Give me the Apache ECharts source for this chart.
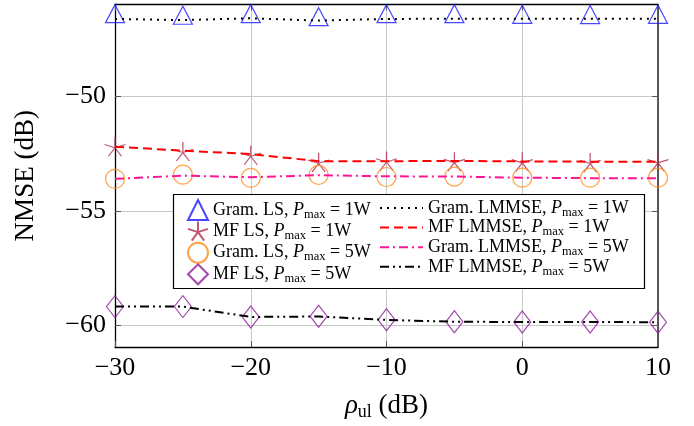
<!DOCTYPE html>
<html><head><meta charset="utf-8">
<script src="https://cdn.jsdelivr.net/npm/echarts@6/dist/echarts.min.js"></script>
<style>html,body{margin:0;padding:0;background:#fff}#c{width:694px;height:426px}</style>
</head><body><div id="c"></div>
<script>
const xValues = [-30, -25, -20, -15, -10, -5, 0, 5, 10];
const xTicks = [-30, -20, -10, 0, 10];
const yTicks = [-60, -55, -50];
const gramLS1 = [-46.53, -46.60, -46.53, -46.66, -46.53, -46.53, -46.56, -46.57, -46.56];
const gramLMMSE1 = [-46.63, -46.68, -46.60, -46.70, -46.63, -46.62, -46.62, -46.62, -46.62];
const mfLS1 = [-52.20, -52.41, -52.57, -52.88, -52.82, -52.85, -52.86, -52.89, -52.86];
const mfLMMSE1 = [-52.20, -52.37, -52.52, -52.83, -52.83, -52.82, -52.84, -52.85, -52.85];
const gramLS5 = [-53.60, -53.42, -53.56, -53.43, -53.52, -53.50, -53.55, -53.55, -53.55];
const gramLMMSE5 = [-53.60, -53.46, -53.53, -53.44, -53.49, -53.50, -53.55, -53.57, -53.57];
const mfLS5 = [-59.17, -59.17, -59.62, -59.59, -59.74, -59.83, -59.84, -59.84, -59.85];
const mfLMMSE5 = [-59.17, -59.17, -59.62, -59.60, -59.75, -59.83, -59.84, -59.84, -59.85];
const lsNames = ['Gram. LS, P_max = 1W', 'MF LS, P_max = 1W', 'Gram. LS, P_max = 5W', 'MF LS, P_max = 5W'];
const lmNames = ['Gram. LMMSE, P_max = 1W', 'MF LMMSE, P_max = 1W', 'Gram. LMMSE, P_max = 5W', 'MF LMMSE, P_max = 5W'];

const FONT = '"Liberation Serif", "DejaVu Serif", serif';
const pair = arr => xValues.map((x, i) => [x, arr[i]]);
const STAR = 'path://M0 0L0 -10M0 0L9.51 -3.09M0 0L-9.51 -3.09M0 0L-5.88 8.09M0 0L5.88 8.09';

function legendFmt(name) {
  const parts = name.split('P_max');
  return '{t|' + parts[0] + '}{i|P}{s|max}{t|' + parts[1] + '}';
}
const legendRich = {
  t: {fontFamily: FONT, fontSize: 18, color: '#000'},
  i: {fontFamily: FONT, fontSize: 18, fontStyle: 'italic', color: '#000'},
  s: {fontFamily: FONT, fontSize: 12.5, color: '#000', padding: [9, 0, 0, 0]}
};

function scatter(name, data, symbol, size, color, offset) {
  return {
    type: 'scatter', name, data: pair(data), symbol, symbolSize: size,
    symbolOffset: offset || [0, 0],
    itemStyle: {color: 'rgba(0,0,0,0)', borderColor: color, borderWidth: 1.2},
    z: 3
  };
}
function line(name, data, color, type, width) {
  return {
    type: 'line', name, data: pair(data), symbol: 'none', showSymbol: false,
    lineStyle: {color, type, width}, itemStyle: {color}, z: 4
  };
}
const minus = v => (v < 0 ? '\u2212' + Math.abs(v) : String(v));

const chart = echarts.init(document.getElementById('c'), null, {renderer: 'canvas'});
chart.setOption({
  animation: false,
  backgroundColor: '#fff',
  grid: {left: 115, right: 36, top: 4.5, bottom: 79, containLabel: false},
  xAxis: [{
    type: 'value', min: -30, max: 10, interval: 10,
    axisLine: {show: true, onZero: false, lineStyle: {color: '#000', width: 1.3}},
    axisTick: {show: true, inside: true, length: 6, lineStyle: {color: '#555', width: 1}},
    axisLabel: {fontFamily: FONT, fontSize: 26, color: '#000', margin: 8, formatter: minus},
    splitLine: {show: true, lineStyle: {color: '#c8c8c8', width: 1}},
    name: '{i|\u03c1}{s|ul}{t| (dB)}', nameLocation: 'middle', nameGap: 44,
    nameTextStyle: {rich: {
      i: {fontFamily: FONT, fontSize: 27, fontStyle: 'italic', color: '#000'},
      s: {fontFamily: FONT, fontSize: 18, color: '#000', padding: [12, 0, 0, 0]},
      t: {fontFamily: FONT, fontSize: 27, color: '#000'}
    }}
  }, {
    type: 'value', position: 'top', min: -30, max: 10, interval: 10,
    axisLine: {show: true, onZero: false, lineStyle: {color: '#000', width: 1.3}},
    axisTick: {show: true, inside: true, length: 6, lineStyle: {color: '#555'}},
    axisLabel: {show: false}, splitLine: {show: false}
  }],
  yAxis: [{
    type: 'value', min: -60.93, max: -46,
    axisLine: {show: true, onZero: false, lineStyle: {color: '#000', width: 1.3}},
    axisTick: {show: true, inside: true, length: 6, customValues: yTicks, lineStyle: {color: '#555'}},
    axisLabel: {fontFamily: FONT, fontSize: 26, color: '#000', margin: 9, customValues: yTicks, formatter: minus},
    splitLine: {show: true, lineStyle: {color: '#c8c8c8', width: 1}},
    name: 'NMSE (dB)', nameLocation: 'middle', nameGap: 76,
    nameTextStyle: {fontFamily: FONT, fontSize: 27, color: '#000'}
  }, {
    type: 'value', position: 'right', min: -60.93, max: -46,
    axisLine: {show: true, onZero: false, lineStyle: {color: '#333', width: 1.6}},
    axisTick: {show: true, inside: true, length: 6, customValues: yTicks, lineStyle: {color: '#555'}},
    axisLabel: {show: false}, splitLine: {show: false}
  }],
  legend: [{
    orient: 'vertical', left: 182, top: 194, itemWidth: 20, itemHeight: 20, itemGap: -0.4,
    data: lsNames, formatter: legendFmt, textStyle: {rich: legendRich}, z: 10, selectedMode: false
  }, {
    orient: 'vertical', left: 374, top: 194, itemWidth: 43, itemHeight: 20, itemGap: -0.4,
    data: lmNames, formatter: legendFmt, textStyle: {rich: legendRich}, z: 10, selectedMode: false,
    itemStyle: {opacity: 0}
  }],
  graphic: [{
    type: 'rect', shape: {x: 173.5, y: 194.5, width: 471, height: 94}, z: 5,
    style: {fill: '#fff', stroke: '#000', lineWidth: 1.2}
  }],
  series: [
    scatter(lsNames[0], gramLS1, 'triangle', [19, 18], '#1a1aff', [0, -3]),
    scatter(lsNames[1], mfLS1, STAR, [21, 19], '#b02c4f'),
    scatter(lsNames[2], gramLS5, 'circle', 19, '#ff8c1a'),
    scatter(lsNames[3], mfLS5, 'diamond', [17, 22], '#8b1a99'),
    line(lmNames[0], gramLMMSE1, '#000', [2, 5], 2),
    line(lmNames[1], mfLMMSE1, '#ff0000', [9, 5], 2),
    line(lmNames[2], gramLMMSE5, '#ff1493', [9, 4, 2, 4], 2),
    line(lmNames[3], mfLMMSE5, '#000', [9, 4, 2, 4, 2, 4], 2)
  ]
});
</script></body></html>
